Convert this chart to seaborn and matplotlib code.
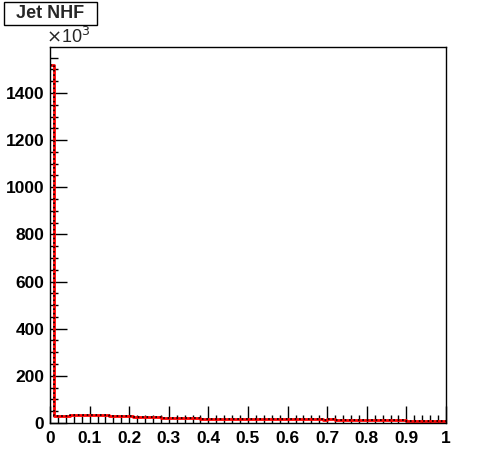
import numpy as np
import pandas as pd
import matplotlib
matplotlib.use("Agg")
import matplotlib.pyplot as plt
import seaborn as sns
from matplotlib.patches import Rectangle
from matplotlib.ticker import MultipleLocator

# Jet NHF histogram, 100 bins on [0, 1], counts in units of 10^3
n_bins = 100
bin_edges = np.linspace(0, 1, n_bins + 1)
counts_k = [
    1520, 30, 30, 31, 30,
    34, 34, 35, 34, 34, 35, 34, 34, 34, 34,
    31, 31, 31, 31, 31, 31,
    26, 26, 26, 26, 26, 26, 25,
    22, 22, 22, 22, 22, 21, 22, 22, 21, 21,
    18, 18, 18, 18, 18, 18, 18, 18, 18, 17, 18, 18, 17,
    17, 17, 16,
    15, 15, 15, 15, 15, 15, 15, 15, 15, 15, 15, 15, 15, 15, 15, 14, 15, 15, 14, 14, 14, 14,
    12, 12, 12, 12, 12, 12, 12, 12, 12, 12, 12, 12, 12, 12,
    9, 8, 8, 8, 8, 8, 8, 8, 8, 8,
]
assert len(counts_k) == n_bins
y_ticks = [0, 200, 400, 600, 800, 1000, 1200, 1400]
x_ticks = [0, 0.1, 0.2, 0.3, 0.4, 0.5, 0.6, 0.7, 0.8, 0.9, 1]
x_labels = ["0", "0.1", "0.2", "0.3", "0.4", "0.5", "0.6", "0.7", "0.8", "0.9", "1"]
title = "Jet NHF"

df = pd.DataFrame({"nhf": (bin_edges[:-1] + bin_edges[1:]) / 2, "count": counts_k})

sns.set_style("ticks")
plt.rcParams["font.family"] = ["Liberation Sans", "DejaVu Sans"]

fig = plt.figure(figsize=(4.96, 4.72), dpi=100)
ax = fig.add_axes([50 / 496, 1 - 423 / 472, 396 / 496, 376 / 472])

sns.histplot(data=df, x="nhf", weights="count", bins=n_bins, binrange=(0, 1),
             element="step", fill=False, color="red", linewidth=2, ax=ax)
sns.histplot(data=df, x="nhf", weights="count", bins=n_bins, binrange=(0, 1),
             element="step", fill=False, color="black", linewidth=1.2,
             linestyle=":", ax=ax)

ax.set_xlim(0, 1)
ax.set_ylim(0, 1595)
ax.set_xlabel("")
ax.set_ylabel("")
ax.xaxis.set_minor_locator(MultipleLocator(0.02))
ax.yaxis.set_minor_locator(MultipleLocator(50))
ax.set_xticks(x_ticks, labels=x_labels, fontsize=12.5, fontweight="bold")
ax.set_yticks(y_ticks, labels=[str(v) for v in y_ticks], fontsize=12.5, fontweight="bold")
ax.tick_params(axis="both", which="both", direction="in", width=1, colors="black",
               top=False, right=False)
ax.tick_params(axis="both", which="major", length=12)
ax.tick_params(axis="both", which="minor", length=6)
ax.tick_params(axis="y", which="major", pad=4)
ax.tick_params(axis="x", which="major", pad=6)
for sp in ax.spines.values():
    sp.set_visible(True)
    sp.set_color("black")
    sp.set_linewidth(1)

fig.text(46 / 496, 1 - 43 / 472, r"$\times$10$^{3}$", fontsize=13, ha="left", va="baseline")

fig.patches.append(Rectangle((4 / 496, 1 - 25 / 472), 93 / 496, 23 / 472,
                             transform=fig.transFigure, facecolor="white",
                             edgecolor="black", linewidth=1))
fig.text(50.5 / 496, 1 - 14 / 472, title, fontsize=13, fontweight="bold",
         ha="center", va="center")

fig.savefig("out.png", dpi=100)
